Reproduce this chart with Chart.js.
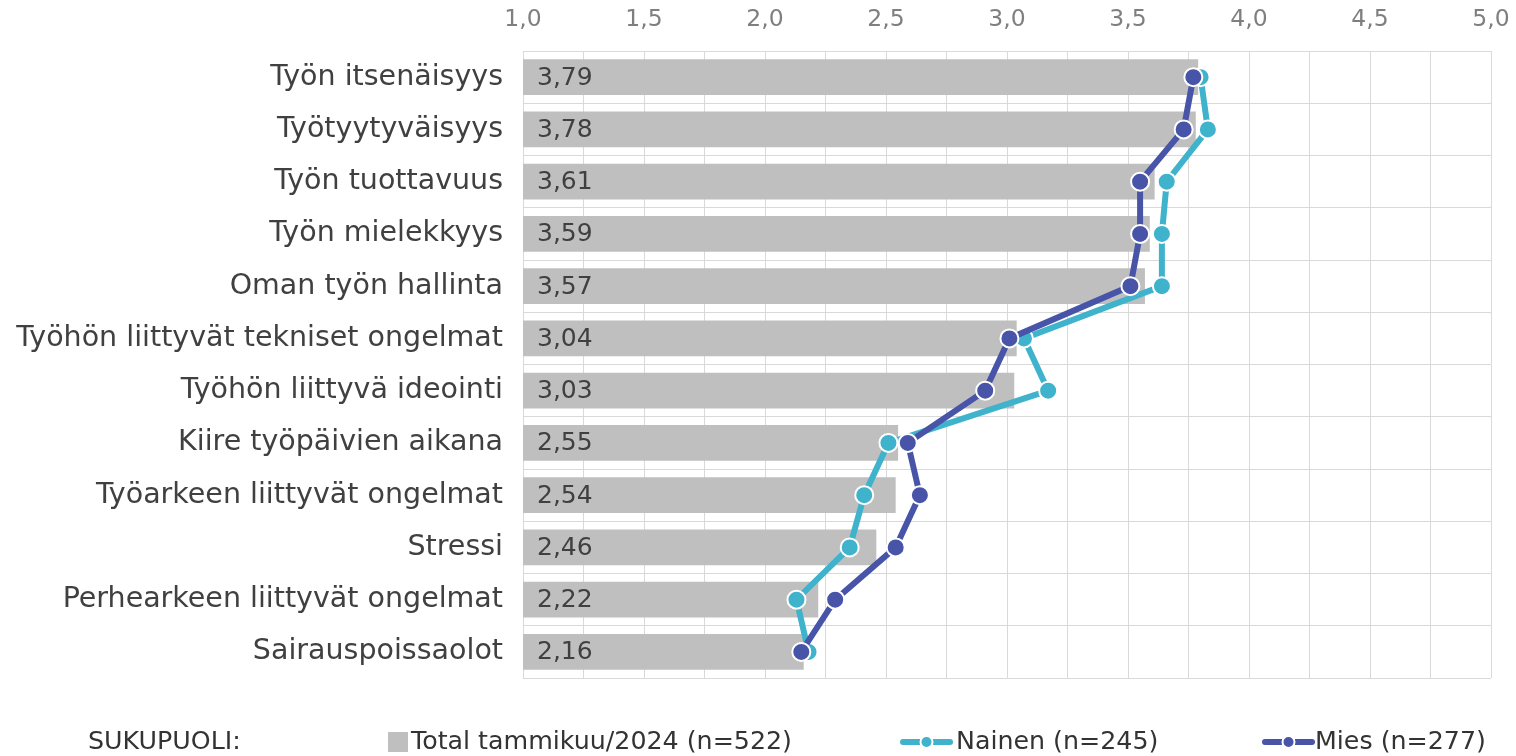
<html>
  <head>
    <script src="https://cdn.jsdelivr.net/npm/chart.js@4.4.1/dist/chart.umd.min.js"></script>
    <style>
      body { margin: 0; background: #fff; }
    </style>
  </head>
  <body>
    <canvas id="output" width="1516" height="756"></canvas>

    <script>
      // Data
      var categories = [
        'Työn itsenäisyys',
        'Työtyytyväisyys',
        'Työn tuottavuus',
        'Työn mielekkyys',
        'Oman työn hallinta',
        'Työhön liittyvät tekniset ongelmat',
        'Työhön liittyvä ideointi',
        'Kiire työpäivien aikana',
        'Työarkeen liittyvät ongelmat',
        'Stressi',
        'Perhearkeen liittyvät ongelmat',
        'Sairauspoissaolot'
      ];
      var totalValues = [3.79, 3.78, 3.61, 3.59, 3.57, 3.04, 3.03, 2.55, 2.54, 2.46, 2.22, 2.16];
      var nainenValues = [3.80, 3.83, 3.66, 3.64, 3.64, 3.07, 3.17, 2.51, 2.41, 2.35, 2.13, 2.18];
      var miesValues = [3.77, 3.73, 3.55, 3.55, 3.51, 3.01, 2.91, 2.59, 2.64, 2.54, 2.29, 2.15];
      var seriesLabels = ['Total tammikuu/2024 (n=522)', 'Nainen (n=245)', 'Mies (n=277)'];
      var legendTitle = 'SUKUPUOLI:';

      var FONT = 'DejaVu Sans, sans-serif';
      var GREY = '#BFBFBF';
      var TEAL = '#3FB2CC';
      var NAVY = '#4754A7';

      function fi(v, d) { return v.toFixed(d).replace('.', ','); }

      // labels inside the bars, at their left end
      var barLabels = {
        id: 'barLabels',
        afterDatasetsDraw: function(chart) {
          var ctx = chart.ctx;
          var meta = chart.getDatasetMeta(0);
          ctx.save();
          ctx.font = '25px ' + FONT;
          ctx.fillStyle = '#404040';
          ctx.textAlign = 'left';
          ctx.textBaseline = 'middle';
          meta.data.forEach(function(bar, i) {
            ctx.fillText(fi(totalValues[i], 2), chart.chartArea.left + 14, bar.y + 1);
          });
          ctx.restore();
        }
      };

      // bottom legend like the original
      var bottomLegend = {
        id: 'bottomLegend',
        afterDraw: function(chart) {
          var ctx = chart.ctx;
          var y = 742;
          ctx.save();
          ctx.font = '25.3px ' + FONT;
          ctx.fillStyle = '#333333';
          ctx.textBaseline = 'middle';
          ctx.fillText(legendTitle, 88, y);

          ctx.fillStyle = GREY;
          ctx.fillRect(388, y - 10, 20, 20);
          ctx.fillStyle = '#333333';
          ctx.fillText(seriesLabels[0], 411, y);

          [[903, TEAL, seriesLabels[1], 956], [1265, NAVY, seriesLabels[2], 1315]].forEach(function(it) {
            ctx.strokeStyle = it[1];
            ctx.lineWidth = 6;
            ctx.lineCap = 'round';
            ctx.beginPath();
            ctx.moveTo(it[0], y);
            ctx.lineTo(it[0] + 47, y);
            ctx.stroke();
            ctx.fillStyle = it[1];
            ctx.strokeStyle = '#fff';
            ctx.lineWidth = 2;
            ctx.beginPath();
            ctx.arc(it[0] + 23.5, y, 6, 0, Math.PI * 2);
            ctx.fill();
            ctx.stroke();
            ctx.fillStyle = '#333333';
            ctx.fillText(it[2], it[3], y);
          });
          ctx.restore();
        }
      };

      var ctx = document.getElementById('output').getContext('2d');
      var myChart = new Chart(ctx, {
        type: 'bar',
        data: {
          labels: categories,
          datasets: [{
            label: seriesLabels[0],
            data: totalValues,
            backgroundColor: GREY,
            categoryPercentage: 1.0,
            barPercentage: 0.68,
            order: 2
          }, {
            type: 'line',
            label: seriesLabels[1],
            data: nainenValues,
            indexAxis: 'y',
            borderColor: TEAL,
            backgroundColor: TEAL,
            borderWidth: 6,
            pointRadius: 9,
            pointBorderColor: '#fff',
            pointBorderWidth: 2,
            pointBackgroundColor: TEAL,
            order: 1
          }, {
            type: 'line',
            label: seriesLabels[2],
            data: miesValues,
            indexAxis: 'y',
            borderColor: NAVY,
            backgroundColor: NAVY,
            borderWidth: 6,
            pointRadius: 9,
            pointBorderColor: '#fff',
            pointBorderWidth: 2,
            pointBackgroundColor: NAVY,
            order: 0
          }]
        },
        options: {
          indexAxis: 'y',
          responsive: false,
          animation: false,
          layout: { padding: { left: 0, top: 0, right: 25, bottom: 78 } },
          plugins: {
            legend: { display: false },
            tooltip: { enabled: false }
          },
          scales: {
            x: {
              position: 'top',
              min: 1,
              max: 5,
              afterFit: function(s) {
                s.height = 51;
                s.paddingLeft = 0;
                s.paddingRight = 0;
              },
              afterBuildTicks: function(s) {
                var t = [];
                for (var v = 1; v <= 5.0001; v += 0.25) t.push({ value: Math.round(v * 100) / 100 });
                s.ticks = t;
              },
              ticks: {
                autoSkip: false,
                maxRotation: 0,
                padding: 17,
                color: '#7F7F7F',
                font: { family: FONT, size: 23.5 },
                callback: function(v) {
                  return (Math.abs(v * 2 - Math.round(v * 2)) < 1e-6) ? fi(v, 1) : '';
                }
              },
              grid: { color: '#D9D9D9', lineWidth: 1, drawTicks: false },
              border: { display: false }
            },
            y: {
              afterFit: function(s) {
                s.width = 523;
                s.paddingTop = 0;
                s.paddingBottom = 0;
              },
              ticks: {
                padding: 20,
                color: '#404040',
                font: { family: FONT, size: 28.5 }
              },
              grid: { color: '#D9D9D9', lineWidth: 1, drawTicks: false, offset: true },
              border: { color: '#D9D9D9' }
            }
          }
        },
        plugins: [barLabels, bottomLegend]
      });
    </script>
  </body>
</html>
